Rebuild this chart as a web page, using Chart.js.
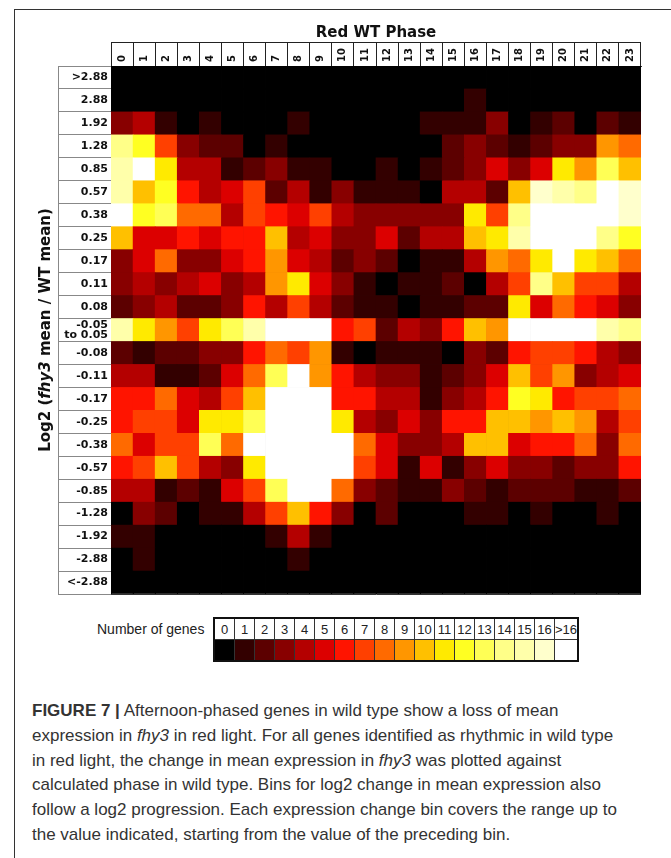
<!DOCTYPE html>
<html>
<head>
<meta charset="utf-8">
<script src="https://cdn.jsdelivr.net/npm/chart.js@4.4.1/dist/chart.umd.min.js"></script>
<style>
  body { margin: 0; background: #fff; width: 671px; height: 858px; position: relative; overflow: hidden; }
  #frameTop { position: absolute; left: 14px; top: 9px; width: 657px; height: 1px; background: #333; }
  #frameLeft { position: absolute; left: 14px; top: 9px; width: 1px; height: 849px; background: #333; }
  #chartBox { position: absolute; left: 0; top: 0; width: 671px; height: 610px; }
  #legendLabel { position: absolute; left: 97px; top: 621px; font: 14px "Liberation Sans", Arial, sans-serif; color: #222; }
  #legend { position: absolute; left: 213px; top: 617px; border-collapse: collapse; border: 2px solid #111; }
  #legend td { width: 19px; height: 20px; padding: 0; border: 1px solid #333; font: 13px "Liberation Sans", Arial, sans-serif; text-align: center; color: #222; }
  #caption { position: absolute; left: 32px; top: 699px; width: 630px; font: 17px "Liberation Sans", Arial, sans-serif; line-height: 24.8px; color: #333; }
</style>
</head>
<body>
<div id="frameTop"></div>
<div id="frameLeft"></div>
<div id="chartBox"><canvas id="heatmap"></canvas></div>
<div id="legendLabel">Number of genes</div>
<table id="legend"><tr id="legendNums"></tr><tr id="legendColors"></tr></table>
<div id="caption"><b>FIGURE 7 |</b> Afternoon-phased genes in wild type show a loss of mean<br>expression in <i>fhy3</i> in red light. For all genes identified as rhythmic in wild type<br>in red light, the change in mean expression in <i>fhy3</i> was plotted against<br>calculated phase in wild type. Bins for log2 change in mean expression also<br>follow a log2 progression. Each expression change bin covers the range up to<br>the value indicated, starting from the value of the preceding bin.</div>

<script>
// phase columns (hours)
const phases = ["0", "1", "2", "3", "4", "5", "6", "7", "8", "9", "10", "11",
  "12", "13", "14", "15", "16", "17", "18", "19", "20", "21", "22", "23"];

// log2 change bins, top to bottom
const bins = [">2.88", "2.88", "1.92", "1.28", "0.85", "0.57", "0.38", "0.25",
  "0.17", "0.11", "0.08", ["-0.05", "to 0.05"], "-0.08", "-0.11", "-0.17",
  "-0.25", "-0.38", "-0.57", "-0.85", "-1.28", "-1.92", "-2.88", "<-2.88"];

// number of genes per bin (rows, same order as bins), 17 means >16
const geneCounts = [
  [0,0,0,0,0,0,0,0,0,0,0,0,0,0,0,0,0,0,0,0,0,0,0,0],
  [0,0,0,0,0,0,0,0,0,0,0,0,0,0,0,0,1,0,0,0,0,0,0,0],
  [3,4,1,0,1,0,0,0,1,0,0,0,0,0,1,1,1,3,0,1,2,0,2,1],
  [14,12,7,3,2,2,0,1,0,0,0,0,0,0,0,2,3,2,1,2,3,3,9,8],
  [15,17,11,4,4,1,2,3,1,1,0,0,1,0,1,2,3,5,3,5,11,9,13,10],
  [15,10,12,6,4,5,7,2,4,1,3,1,1,1,0,4,4,2,10,16,15,14,17,16],
  [17,12,13,8,8,4,7,6,5,7,4,3,3,3,3,3,11,7,14,17,17,17,17,16],
  [10,5,5,6,5,6,6,10,4,5,3,3,5,2,4,4,10,11,15,17,17,17,14,12],
  [3,5,8,3,3,5,6,9,5,4,2,3,2,0,1,1,4,9,8,11,17,11,10,8],
  [3,4,3,4,5,3,4,9,11,5,3,1,0,1,1,2,0,4,7,14,10,7,7,4],
  [2,3,4,2,2,3,6,4,7,4,2,1,1,0,1,1,2,2,11,5,8,6,5,3],
  [15,11,9,7,11,13,15,17,17,17,6,7,2,4,3,6,10,9,17,17,17,17,15,14],
  [2,1,2,2,3,3,6,8,7,9,1,0,1,1,1,0,3,2,6,7,7,6,4,3],
  [4,4,1,1,2,5,8,13,17,9,6,4,3,3,1,2,3,5,10,7,9,3,4,5],
  [6,6,8,5,4,7,10,17,17,17,6,6,4,4,1,3,4,6,12,11,6,7,7,8],
  [6,7,7,5,11,11,13,17,17,17,11,4,3,5,3,6,6,10,10,9,10,9,4,7],
  [8,5,7,7,13,8,17,17,17,17,17,8,5,3,3,4,10,10,5,6,6,8,3,8],
  [6,7,10,7,4,3,11,17,17,17,17,7,5,1,5,1,3,5,3,3,2,3,3,6],
  [4,4,1,2,1,5,7,13,17,17,8,3,2,1,1,3,2,1,2,2,2,1,1,2],
  [0,3,2,0,1,1,4,7,10,6,3,0,2,0,0,0,1,1,0,1,0,0,1,0],
  [1,1,0,0,0,0,0,1,4,1,0,0,0,0,0,0,0,0,0,0,0,0,0,0],
  [0,1,0,0,0,0,0,0,1,0,0,0,0,0,0,0,0,0,0,0,0,0,0,0],
  [0,0,0,0,0,0,0,0,0,0,0,0,0,0,0,0,0,0,0,0,0,0,0,0],
];

const legendLabels = ["0","1","2","3","4","5","6","7","8","9","10","11","12","13","14","15","16",">16"];

// colour per gene count (index = count)
const heatColors = ["#000000", "#330000", "#5c0000", "#880000", "#b40000", "#dc0000",
  "#ff1400", "#ff4000", "#ff6a00", "#ff9600", "#ffc000", "#ffea00", "#ffff22",
  "#ffff55", "#ffff88", "#ffffaa", "#ffffcc", "#ffffff"];

const cellLine = "#333";
const labelFont = "'DejaVu Sans', Verdana, sans-serif";

// legend table
legendLabels.forEach((lab, i) => {
  const th = document.createElement("td");
  th.textContent = lab;
  document.querySelector("#legendNums").appendChild(th);
  const td = document.createElement("td");
  td.style.background = heatColors[i];
  document.querySelector("#legendColors").appendChild(td);
});

// one stacked dataset per bin, bottom row first
const datasets = bins.map((bin, i) => bins.length - 1 - i).map((row) => ({
  label: String(bins[row]),
  data: phases.map(() => 1),
  backgroundColor: geneCounts[row].map((n) => heatColors[n]),
  borderWidth: 0,
  barPercentage: 1,
  categoryPercentage: 1,
}));

// phase labels in header boxes, y title with italic gene name, box outlines
const framePlugin = {
  id: "framePlugin",
  afterDraw(chart) {
    const ctx = chart.ctx;
    const area = chart.chartArea;
    const yScale = chart.scales.y;
    const xScale = chart.scales.x;
    ctx.save();
    ctx.lineWidth = 1;
    ctx.strokeStyle = "#888";
    ctx.beginPath();
    ctx.moveTo(Math.round(yScale.left) + 0.5, area.top);
    ctx.lineTo(Math.round(yScale.left) + 0.5, area.bottom);
    ctx.stroke();
    ctx.strokeStyle = "#222";
    ctx.beginPath();
    ctx.moveTo(area.left, Math.round(xScale.top) + 0.5);
    ctx.lineTo(area.right, Math.round(xScale.top) + 0.5);
    ctx.stroke();

    // column headers, rotated, reading upwards
    ctx.fillStyle = "#111";
    ctx.font = "bold 10px " + labelFont;
    ctx.textAlign = "left";
    ctx.textBaseline = "middle";
    phases.forEach((p, i) => {
      ctx.save();
      ctx.translate(xScale.getPixelForValue(i), area.top - 4);
      ctx.rotate(-Math.PI / 2);
      ctx.fillText(p, 0, 0);
      ctx.restore();
    });

    // axis title
    const parts = [
      ["bold 15px " + labelFont, "Log2 ("],
      ["italic bold 15px " + labelFont, "fhy3"],
      ["bold 15px " + labelFont, " mean / WT mean)"],
    ];
    let total = 0;
    parts.forEach(([f, t]) => { ctx.font = f; total += ctx.measureText(t).width; });
    ctx.translate(yScale.left - 12, (area.top + area.bottom) / 2);
    ctx.rotate(-Math.PI / 2);
    ctx.textAlign = "left";
    let x = -total / 2;
    parts.forEach(([f, t]) => {
      ctx.font = f;
      ctx.fillText(t, x, 0);
      x += ctx.measureText(t).width;
    });
    ctx.restore();
  },
};

new Chart(document.querySelector("#heatmap"), {
  type: "bar",
  data: { labels: phases, datasets: datasets },
  options: {
    responsive: true,
    maintainAspectRatio: false,
    animation: false,
    layout: { padding: { left: 58, right: 30, top: 24, bottom: 16 } },
    plugins: {
      legend: { display: false },
      tooltip: { enabled: false },
      title: {
        display: true,
        text: "Red WT Phase",
        fullSize: false,
        color: "#111",
        font: { family: labelFont, size: 15, weight: "bold" },
        padding: { top: 0, bottom: 0 },
      },
    },
    scales: {
      x: {
        position: "top",
        stacked: true,
        z: 1,
        grid: {
          offset: true,
          color: cellLine,
          tickColor: "#222",
          lineWidth: 1,
          tickLength: 24,
          drawOnChartArea: true,
        },
        border: { color: cellLine },
        ticks: { display: false },
        afterFit(scale) { scale.height = 24; },
      },
      y: {
        stacked: true,
        min: 0,
        max: bins.length,
        z: 1,
        grid: {
          color: cellLine,
          tickColor: "#888",
          lineWidth: 1,
          tickLength: 53,
          drawOnChartArea: true,
        },
        border: { color: cellLine },
        afterBuildTicks(scale) {
          scale.ticks = bins.map((b, i) => ({ value: i })).concat([{ value: bins.length }]);
        },
        ticks: {
          autoSkip: false,
          padding: -50,
          labelOffset: -11.5,
          color: "#111",
          font: { family: labelFont, size: 11, weight: "bold", lineHeight: 0.95 },
          callback(value) {
            return value < bins.length ? bins[bins.length - 1 - value] : "";
          },
        },
        afterFit(scale) { scale.width = 53; },
      },
    },
  },
  plugins: [framePlugin],
});
</script>
</body>
</html>
